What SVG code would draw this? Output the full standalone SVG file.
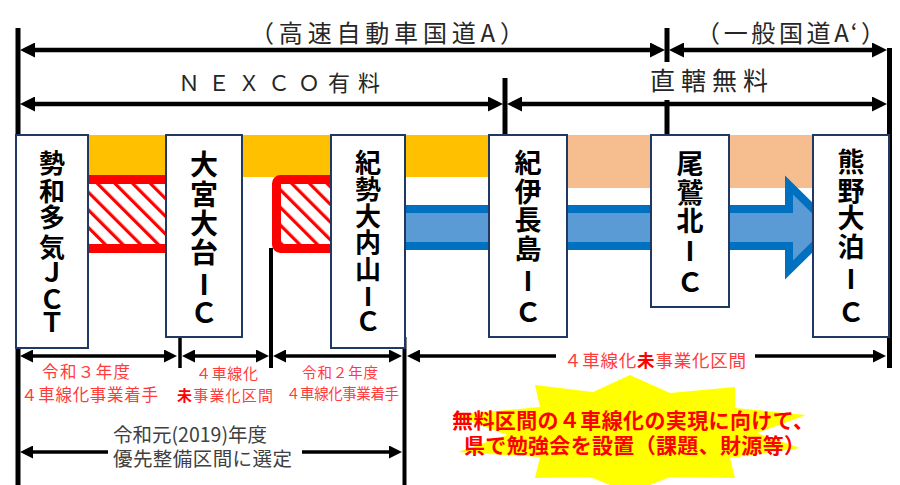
<svg xmlns="http://www.w3.org/2000/svg" width="900" height="485" viewBox="0 0 900 485">
<style>
  .jp{font-family:"Noto Sans CJK JP","Noto Sans",sans-serif}
  .lbl{font-family:"Noto Sans CJK JP","Noto Sans",sans-serif;font-size:24px;fill:#262626}
  .box{fill:#fff;stroke:#1F3864;stroke-width:2}
  .bt{font-family:"Noto Sans CJK JP","Noto Sans",sans-serif;font-size:26px;font-weight:bold;fill:#000;text-anchor:middle}
  .red{font-family:"Noto Sans CJK JP","Noto Sans",sans-serif;fill:#FF3B3B}
  .v{stroke:#000;fill:none}
  .dim{stroke:#000;fill:none;stroke-width:4.5}
  .dim2{stroke:#000;fill:none;stroke-width:3.5}
</style>
<defs>
  <marker id="ah" markerUnits="userSpaceOnUse" viewBox="0 0 15 15" markerWidth="15" markerHeight="15" refX="10" refY="7.5" orient="auto-start-reverse">
    <path d="M0,0 L15,7.5 L0,15 Z" fill="#000"/>
  </marker>
  <marker id="ah2" markerUnits="userSpaceOnUse" viewBox="0 0 13 13" markerWidth="13" markerHeight="13" refX="9" refY="6.5" orient="auto-start-reverse">
    <path d="M0,0 L13,6.5 L0,13 Z" fill="#000"/>
  </marker>
  <pattern id="hatch" patternUnits="userSpaceOnUse" width="12.5" height="12.5" patternTransform="rotate(-45)">
    <rect width="12.5" height="12.5" fill="#fff"/>
    <rect width="3.2" height="12.5" fill="#FF0000"/>
  </pattern>
</defs>

<!-- bands -->
<g id="bands">
  <rect x="88" y="135" width="401" height="42" fill="#FFC000"/>
  <rect x="567" y="135" width="246" height="53" fill="#F6BE8E"/>
  <rect x="80" y="179.5" width="95" height="69" fill="url(#hatch)" stroke="#FF0000" stroke-width="9"/>
  <rect x="276.5" y="179.5" width="62" height="69" rx="4" fill="url(#hatch)" stroke="#FF0000" stroke-width="9"/>
  <path d="M400,209 H789 V185 L832,227.5 L789,270 V246 H400 Z" fill="#5B9BD5" stroke="#0070C0" stroke-width="8" stroke-linejoin="miter"/>
</g>

<!-- connectors -->
<g id="connectors">
  <line class="v" x1="18" y1="28" x2="18" y2="485" stroke-width="5"/>
  <line class="v" x1="667" y1="28" x2="667" y2="62" stroke-width="5"/>
  <line class="v" x1="667" y1="100" x2="667" y2="136" stroke-width="5"/>
  <line class="v" x1="505" y1="78" x2="505" y2="136" stroke-width="5"/>
  <line class="v" x1="889.5" y1="48" x2="889.5" y2="368" stroke-width="5"/>
  <line class="dim" x1="25" y1="50" x2="660" y2="50" marker-start="url(#ah)" marker-end="url(#ah)"/>
  <line class="dim" x1="674" y1="50" x2="882" y2="50" marker-start="url(#ah)" marker-end="url(#ah)"/>
  <line class="dim" x1="25" y1="104" x2="498" y2="104" marker-start="url(#ah)" marker-end="url(#ah)"/>
  <line class="dim" x1="512" y1="104" x2="882" y2="104" marker-start="url(#ah)" marker-end="url(#ah)"/>

  <line class="v" x1="180" y1="337" x2="180" y2="368" stroke-width="3.5"/>
  <line class="v" x1="271" y1="248" x2="271" y2="368" stroke-width="4"/>
  <line class="v" x1="404.5" y1="337" x2="404.5" y2="485" stroke-width="4"/>
  <line class="dim2" x1="24" y1="356" x2="173" y2="356" marker-start="url(#ah2)" marker-end="url(#ah2)"/>
  <line class="dim2" x1="186" y1="356" x2="265" y2="356" marker-start="url(#ah2)" marker-end="url(#ah2)"/>
  <line class="dim2" x1="277" y1="356" x2="398" y2="356" marker-start="url(#ah2)" marker-end="url(#ah2)"/>
  <line class="dim2" x1="411" y1="356" x2="556" y2="356" marker-start="url(#ah2)"/>
  <line class="dim2" x1="755" y1="356" x2="882" y2="356" marker-end="url(#ah2)"/>
  <line class="dim2" x1="24" y1="452" x2="108" y2="452" marker-start="url(#ah2)"/>
  <line class="dim2" x1="302" y1="452" x2="398" y2="452" marker-end="url(#ah2)"/>
</g>

<!-- top labels -->
<g id="labels-top">
  <text class="lbl" x="250" y="42" textLength="274" lengthAdjust="spacing">（高速自動車国道A）</text>
  <text class="lbl" x="696" y="42" textLength="189" lengthAdjust="spacing">（一般国道A‘）</text>
  <text class="lbl" x="178" y="91" style="font-size:22px" textLength="202" lengthAdjust="spacing">ＮＥＸＣＯ有料</text>
  <text class="lbl" x="650" y="90" style="font-size:25px" textLength="118" lengthAdjust="spacing">直轄無料</text>
</g>

<!-- nodes -->
<g id="node-seiwataki">
  <rect class="box" x="16" y="135" width="72" height="213"/>
  <text class="bt"><tspan x="52" y="173">勢</tspan><tspan x="52" y="201">和</tspan><tspan x="52" y="227">多</tspan><tspan x="52" y="257">気</tspan><tspan x="52" y="282">Ｊ</tspan><tspan x="52" y="309">Ｃ</tspan><tspan x="52" y="332">Ｔ</tspan></text>
</g>
<g id="node-omiyaodai">
  <rect class="box" x="166" y="135" width="76" height="202"/>
  <text class="bt" style="font-size:28px"><tspan x="204" y="175">大</tspan><tspan x="204" y="205">宮</tspan><tspan x="204" y="234">大</tspan><tspan x="204" y="263">台</tspan><tspan x="204" y="295">I</tspan><tspan x="204" y="323">Ｃ</tspan></text>
</g>
<g id="node-kiseiouchiyama">
  <rect class="box" x="331" y="135" width="74" height="213"/>
  <text class="bt"><tspan x="368" y="172">紀</tspan><tspan x="368" y="199">勢</tspan><tspan x="368" y="226">大</tspan><tspan x="368" y="252">内</tspan><tspan x="368" y="279">山</tspan><tspan x="368" y="306">I</tspan><tspan x="368" y="331">Ｃ</tspan></text>
</g>
<g id="node-kiinagashima">
  <rect class="box" x="489" y="135" width="78" height="202"/>
  <text class="bt" style="font-size:27px"><tspan x="528" y="173">紀</tspan><tspan x="528" y="202">伊</tspan><tspan x="528" y="230">長</tspan><tspan x="528" y="259">島</tspan><tspan x="528" y="291">I</tspan><tspan x="528" y="322">Ｃ</tspan></text>
</g>
<g id="node-owasekita">
  <rect class="box" x="651" y="135" width="78" height="172"/>
  <text class="bt" style="font-size:27px"><tspan x="690" y="174">尾</tspan><tspan x="690" y="203">鷲</tspan><tspan x="690" y="231">北</tspan><tspan x="690" y="261">I</tspan><tspan x="690" y="292">Ｃ</tspan></text>
</g>
<g id="node-kumanoodomari">
  <rect class="box" x="813" y="135" width="76" height="202"/>
  <text class="bt" style="font-size:27px"><tspan x="851" y="172">熊</tspan><tspan x="851" y="201">野</tspan><tspan x="851" y="228">大</tspan><tspan x="851" y="257">泊</tspan><tspan x="851" y="289">I</tspan><tspan x="851" y="322">Ｃ</tspan></text>
</g>

<!-- section labels -->
<g id="labels-bottom">
  <text class="red" x="42" y="378" style="font-size:16.5px" textLength="88" lengthAdjust="spacing">令和３年度</text>
  <text class="red" x="21" y="401" style="font-size:16.5px" textLength="137" lengthAdjust="spacing">４車線化事業着手</text>
  <text class="red" x="196" y="379" style="font-size:15px" textLength="62" lengthAdjust="spacing">４車線化</text>
  <text class="red" x="177" y="401" style="font-size:15px" textLength="96" lengthAdjust="spacing"><tspan font-weight="bold" fill="#FF0000">未</tspan>事業化区間</text>
  <text class="red" x="302" y="378" style="font-size:14.5px" textLength="76" lengthAdjust="spacing">令和２年度</text>
  <text class="red" x="286" y="399" style="font-size:14.5px" textLength="113" lengthAdjust="spacing">４車線化事業着手</text>
  <text class="red" x="564" y="367" style="font-size:17.5px" textLength="182" lengthAdjust="spacing">４車線化<tspan font-weight="bold" fill="#FF0000">未</tspan>事業化区間</text>
  <text class="jp" x="113" y="442" style="font-size:19.5px" fill="#404040" textLength="154" lengthAdjust="spacing">令和元(2019)年度</text>
  <text class="jp" x="113" y="466" style="font-size:19.5px" fill="#404040" textLength="179" lengthAdjust="spacing">優先整備区間に選定</text>
</g>

<!-- starburst -->
<g id="callout">
  <polygon fill="#FFFF00" points="630,375 670,393 735,387 735,408 806,415 757,433 800,448 730,458 735,478 670,477 630,493 590,477 535,478 540,457 458,452 507,435 454,415 540,407 535,385 593,392"/>
  <text class="jp" x="452" y="428" style="font-size:21px;font-weight:bold" fill="#FF0000" textLength="362" lengthAdjust="spacing">無料区間の４車線化の実現に向けて、</text>
  <text class="jp" x="464" y="453" style="font-size:21px;font-weight:bold" fill="#FF0000" textLength="341" lengthAdjust="spacing">県で勉強会を設置（課題、財源等）</text>
</g>
</svg>
